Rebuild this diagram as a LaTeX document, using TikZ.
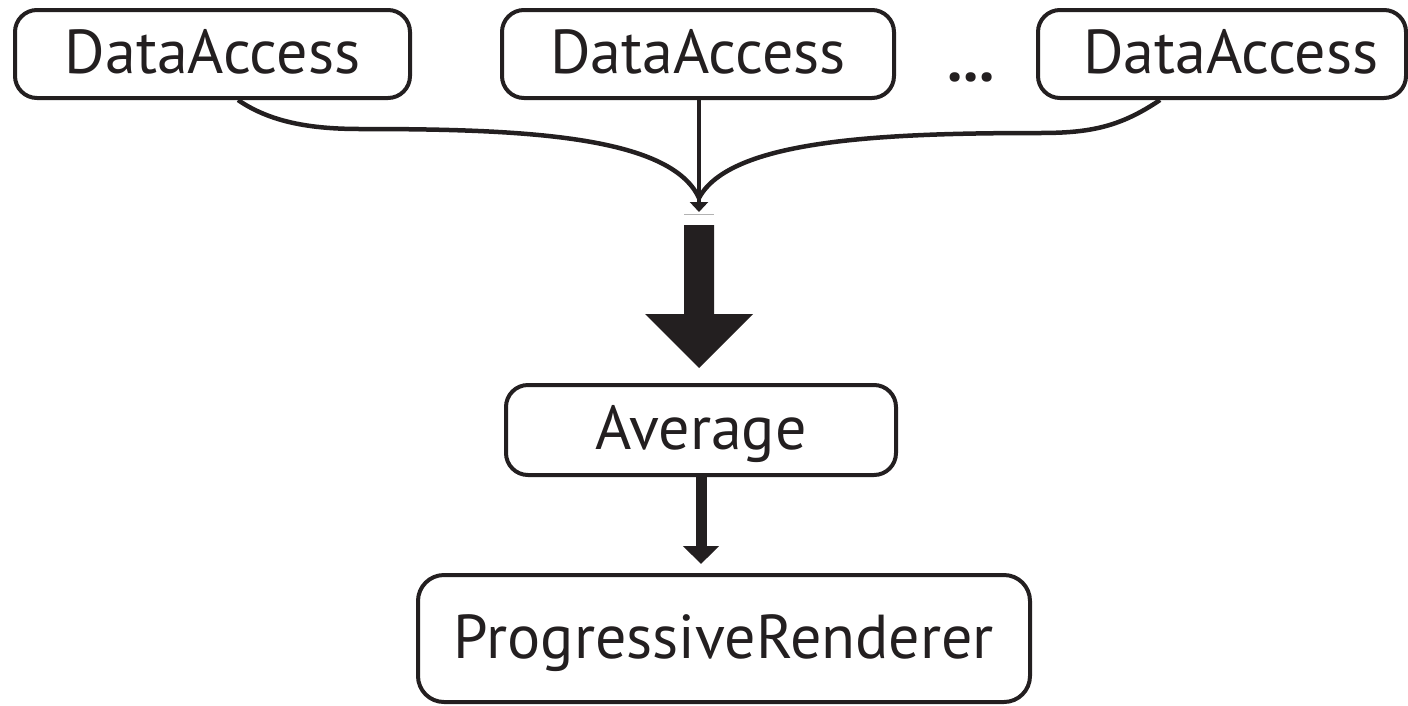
\documentclass[tikz,border=0pt]{standalone}
\usepackage{fontspec}
\setmainfont{PT Sans}
\usetikzlibrary{arrows.meta}
\definecolor{ink}{HTML}{231F20}
\begin{document}
\begin{tikzpicture}[x=1pt,y=-1pt,
  box/.style={draw=ink, line width=4pt, rounded corners=22pt, minimum height=88pt,
    text=ink, font=\fontsize{62}{62}\selectfont, text height=43pt, text depth=4pt, inner sep=0pt},
  link/.style={draw=ink, line width=4.5pt},
  smalltip/.style={-{Triangle[width=18pt,length=10pt]}},
]
\useasboundingbox (0,0) rectangle (1408,705);
\begin{scope}
\clip (0,0) rectangle (1408,705);

% data sources
\node[box, minimum width=395pt] (da1) at (212.5,54) {DataAccess};
\node[box, minimum width=392pt] (da2) at (698,54) {DataAccess};
\node[box, minimum width=368pt] (da3) at (1222,54) {\hspace*{18pt}DataAccess};
\node[anchor=base, text=ink, font=\fontsize{62}{62}\selectfont\bfseries] (dots) at (971,81) {...};

% processing chain
\node[box, minimum width=390pt, minimum height=90pt] (avg) at (701,430) {Average};
\node[box, minimum width=612pt, minimum height=127pt, rounded corners=26pt] (prog) at (724,638.5) {ProgressiveRenderer};

% merging connectors
\coordinate (merge) at (699,198);
\coordinate (tip) at (699,212);
\draw[link] ([xshift=25.5pt]da1.south) .. controls (270,122) and (310,129) .. (360,129)
  .. controls (520,129) and (670,135) .. (merge);
\draw[link] ([xshift=-62pt]da3.south) .. controls (1120,127) and (1090,133) .. (1040,133)
  .. controls (880,133) and (730,140) .. (merge);
\draw[link, line width=3.5pt, smalltip, fill=ink] (da2.south -| tip) -- (tip);

% thick flow arrow
\draw[gray!60, line width=1pt] (684,214) -- (714,214);
\fill[ink] (684,225) -- (714,225) -- (714,314) -- (753,314) -- (699,368)
  -- (645,314) -- (684,314) -- cycle;

% average to renderer
\draw[ink, line width=11pt, -{Triangle[width=35pt,length=18pt]}, shorten >=9pt]
  (avg.south -| 701,0) -- (prog.north -| 701,0);
\end{scope}
\end{tikzpicture}
\end{document}
